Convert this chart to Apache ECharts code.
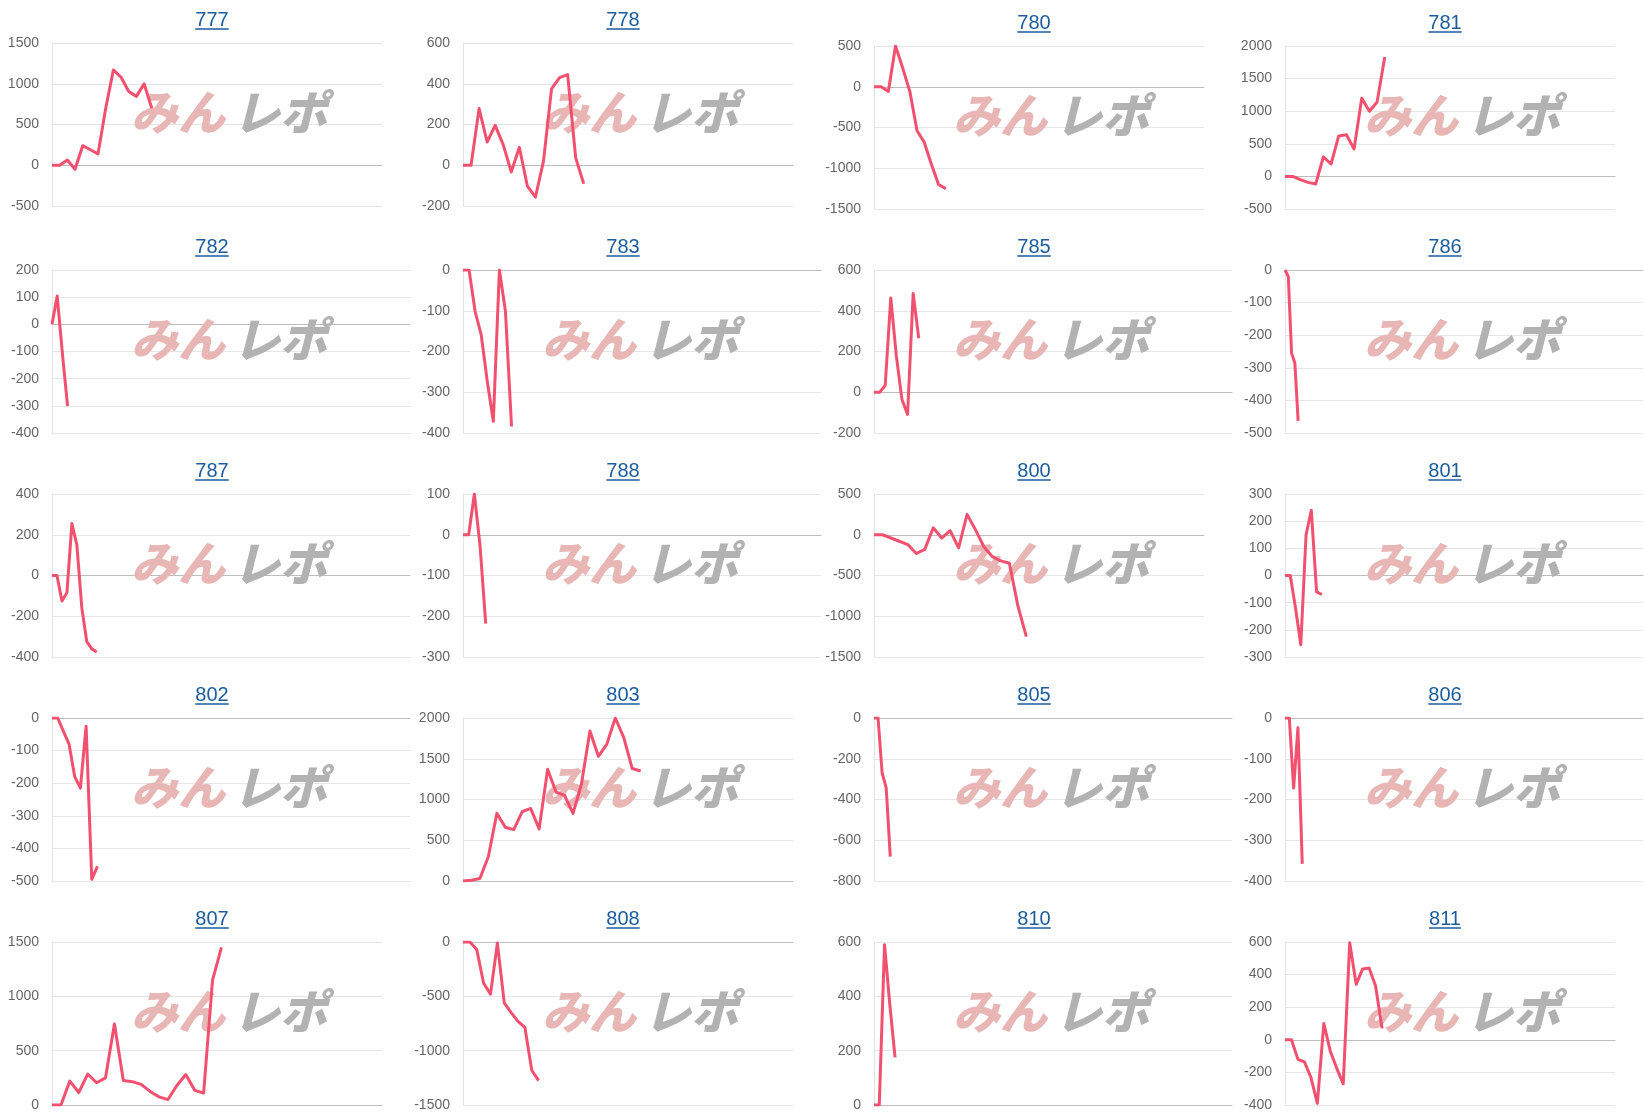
<!DOCTYPE html>
<html>
<head>
<meta charset="utf-8">
<script src="https://cdn.jsdelivr.net/npm/echarts@6/dist/echarts.min.js"></script>
<style>
html, body { margin: 0; padding: 0; background: #fff; }
#main { width: 1644px; height: 1120px; }
</style>
</head>
<body>
<div id="main"></div>
<script>
// machine numbers shown above each small chart
const machines = ['777', '778', '780', '781', '782', '783', '785', '786', '787', '788',
                  '800', '801', '802', '803', '805', '806', '807', '808', '810', '811'];

// coin difference per machine
const d777 = [0, 0, 65, -50, 240, 190, 140, 700, 1170, 1080, 905, 845, 1000, 700];
const d778 = [0, 0, 278, 114, 196, 100, -33, 88, -103, -157, 20, 375, 430, 445, 36, -91];
const d780 = [0, 0, -57, 500, 230, -60, -540, -680, -950, -1200, -1250];
const d781 = [0, 0, -50, -92, -117, 300, 190, 620, 640, 420, 1200, 1000, 1140, 1830];
const d782 = [0, 104, -106, -301];
const d783 = [0, 0, -102, -159, -273, -371, 0, -102, -384];
const d785 = [0, 0, 33, 463, 176, -36, -109, 485, 265];
const d786 = [0, -20, -255, -285, -463];
const d787 = [0, 0, -125, -85, 255, 150, -160, -325, -360, -375];
const d788 = [0, 0, 100, -27, -218];
const d800 = [0, 0, -40, -80, -120, -230, -180, 85, -40, 50, -160, 250, 60, -150, -270, -320, -350, -870, -1250];
const d801 = [0, 0, -120, -255, 150, 240, -60, -70];
const d802 = [0, 0, -40, -80, -180, -215, -25, -495, -455];
const d803 = [0, 10, 30, 300, 830, 660, 630, 850, 890, 640, 1370, 1090, 1050, 830, 1190, 1840, 1530, 1680, 2000, 1760, 1380, 1350];
const d805 = [0, 0, -270, -343, -680];
const d806 = [0, 0, -172, -24, -358];
const d807 = [0, 0, 220, 115, 285, 205, 250, 745, 225, 215, 190, 125, 75, 50, 180, 280, 135, 110, 1150, 1450];
const d808 = [0, 0, -70, -380, -480, -10, -560, -650, -730, -785, -1180, -1275];
const d810 = [0, 0, 590, 370, 175];
const d811 = [0, 0, -120, -135, -230, -390, 100, -70, -175, -270, 595, 340, 435, 440, 330, 70];

const seriesData = [d777, d778, d780, d781, d782, d783, d785, d786, d787, d788,
                    d800, d801, d802, d803, d805, d806, d807, d808, d810, d811];

// how many x slots each chart has (labels are hidden in the picture)
const catCounts = [44, 42, 47, 44, 70, 60, 65, 110, 73, 64, 40, 69, 64, 40, 89, 84, 38, 49, 69, 52];

// y axis ranges
const yMin  = [-500, -200, -1500, -500, -400, -400, -200, -500, -400, -300, -1500, -300, -500, 0, -800, -400, 0, -1500, 0, -400];
const yMax  = [1500, 600, 500, 2000, 200, 0, 600, 0, 400, 100, 500, 300, 0, 2000, 0, 0, 1500, 0, 600, 600];
const yStep = [500, 200, 500, 500, 100, 100, 200, 100, 200, 100, 500, 100, 100, 500, 200, 100, 500, 500, 200, 200];

// layout: some plots run to the edge of their column
const wide = [false, false, false, false, true, true, true, true, true, true,
              false, true, true, false, true, true, false, false, true, false];

const COL_W = 411, ROW_H = 224;
const LINE_COLOR = '#f2506f';
const LINK_COLOR = '#1b5c9e';
const LABEL_FONT = '"Liberation Sans", Arial, sans-serif';

const chart = echarts.init(document.getElementById('main'));
const ctx = document.createElement('canvas').getContext('2d');

const grids = [], xAxes = [], yAxes = [], series = [], titles = [], graphics = [];

machines.forEach((name, i) => {
  const col = i % 4, row = Math.floor(i / 4);
  const x0 = col * COL_W;
  // the first two charts sit a few pixels higher than the rest
  const y0 = row * ROW_H + (i < 2 ? 0 : 3);

  const left = x0 + 52;
  const right = x0 + COL_W - (wide[i] ? 1 : 29);

  grids.push({ left: left, top: y0 + 43, width: right - left, height: 163 });

  const cats = [];
  for (let k = 1; k <= catCounts[i]; k++) cats.push(String(k));

  xAxes.push({
    gridIndex: i, type: 'category', data: cats, boundaryGap: false,
    axisLabel: { show: false }, axisTick: { show: false },
    axisLine: { show: true, onZero: true, lineStyle: { color: '#bdbdbd', width: 1 } },
    splitLine: { show: false }
  });

  yAxes.push({
    gridIndex: i, type: 'value', min: yMin[i], max: yMax[i], interval: yStep[i],
    axisLine: { show: true, lineStyle: { color: '#e3e3e3' } },
    axisTick: { show: false },
    axisLabel: { color: '#666', fontSize: 14, fontFamily: LABEL_FONT, margin: 13,
                 formatter: v => String(v) },
    splitLine: { lineStyle: { color: '#e6e6e6', width: 1 } }
  });

  series.push({
    type: 'line', xAxisIndex: i, yAxisIndex: i, data: seriesData[i],
    showSymbol: false, symbol: 'none', z: 3,
    lineStyle: { color: LINE_COLOR, width: 3, join: 'round' },
    itemStyle: { color: LINE_COLOR }
  });

  // title with link underline
  const cx = x0 + 212;
  titles.push({
    text: name, left: cx, top: y0 + 20, textAlign: 'center', textVerticalAlign: 'middle', padding: 0,
    textStyle: { color: LINK_COLOR, fontSize: 20, fontWeight: 'normal', fontFamily: LABEL_FONT }
  });
  ctx.font = '20px ' + LABEL_FONT;
  const tw = ctx.measureText(name).width;
  graphics.push({
    type: 'line', silent: true, z: 5,
    shape: { x1: cx - tw / 2, y1: y0 + 29, x2: cx + tw / 2, y2: y0 + 29 },
    style: { stroke: LINK_COLOR, lineWidth: 1.5 }
  });

  // watermark logo
  graphics.push({
    type: 'text', x: x0 + 131, y: y0 + 112, z: 1, silent: true,
    style: { text: 'みん', fill: '#e9b6b6', font: 'italic 900 47px "Noto Sans CJK JP"',
             textAlign: 'left', align: 'left', textVerticalAlign: 'middle', verticalAlign: 'middle' }
  });
  graphics.push({
    type: 'text', x: x0 + 233, y: y0 + 112, z: 1, silent: true,
    style: { text: 'レポ', fill: '#b2b2b2', font: 'italic 900 47px "Noto Sans CJK JP"',
             textAlign: 'left', align: 'left', textVerticalAlign: 'middle', verticalAlign: 'middle' }
  });
});

chart.setOption({
  animation: false,
  title: titles,
  grid: grids,
  xAxis: xAxes,
  yAxis: yAxes,
  series: series,
  graphic: { elements: graphics }
});
</script>
</body>
</html>
